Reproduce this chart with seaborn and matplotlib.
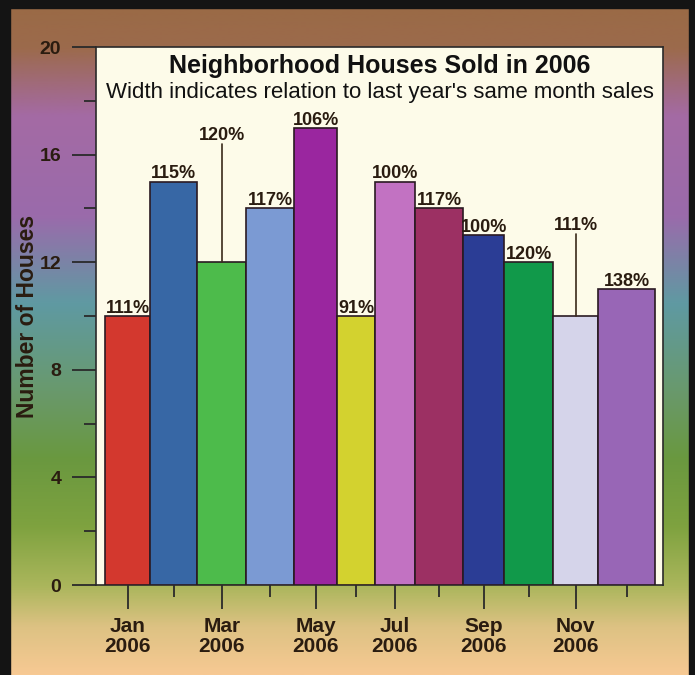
import numpy as np
import seaborn as sns
import matplotlib.pyplot as plt
from matplotlib.colors import LinearSegmentedColormap

# data
months = ["Jan", "Feb", "Mar", "Apr", "May", "Jun",
          "Jul", "Aug", "Sep", "Oct", "Nov", "Dec"]
houses_sold = [10, 15, 12, 14, 17, 10, 15, 14, 13, 12, 10, 11]
pct_last_year = [111, 115, 120, 117, 106, 91, 100, 117, 100, 120, 111, 138]

bar_colors = ["#d3382e", "#3767a5", "#4dbb4b", "#7b9ad3", "#9a269f", "#d3d22f",
              "#c272c2", "#9c3063", "#2b3d95", "#11994a", "#d5d4ea", "#9866b6"]

sns.set_style("white")
plt.rcParams["font.family"] = ["Liberation Sans", "DejaVu Sans"]
ink = "#2a1c10"

fig = plt.figure(figsize=(6.95, 6.75), dpi=100)

# gradient page background
bg = fig.add_axes([0, 0, 1, 1], zorder=-5)
grad = LinearSegmentedColormap.from_list("bg", [
    (0.00, "#9a6a45"), (0.07, "#9c6a4c"), (0.17, "#a46aa4"), (0.32, "#9a6bab"),
    (0.45, "#5f9aa2"), (0.58, "#69996c"), (0.68, "#6a983f"), (0.78, "#7ea23f"),
    (0.87, "#abb65c"), (0.93, "#ddc283"), (1.00, "#f7c993")])
bg.imshow(np.linspace(0, 1, 256)[:, None], aspect="auto", cmap=grad,
          extent=[0, 1, 0, 1], origin="upper")
bg.set_xlim(0, 1)
bg.set_ylim(0, 1)
bg.axis("off")
# dark scan border
bg.axhspan(0.988, 1, color="#141414")
bg.axvspan(0, 0.015, color="#141414")
bg.axvspan(0.992, 1, color="#141414")

ax = fig.add_axes([0.138, 0.1333, 0.816, 0.797])
ax.set_facecolor("#fdfbe9")

palette = sns.color_palette(bar_colors)
lefts = np.concatenate([[0], np.cumsum(pct_last_year)[:-1]])
centers = lefts + np.array(pct_last_year) / 2
ax.bar(lefts, houses_sold, width=pct_last_year, align="edge", color=palette,
       edgecolor="#2a1a22", linewidth=1.2, zorder=3)

# labels; Mar and Nov sit higher with a leader line
lead = {2: 4.55, 10: 3.2}
for i, (c, v, p) in enumerate(zip(centers, houses_sold, pct_last_year)):
    off = lead.get(i, 0.12)
    if i in lead:
        ax.plot([c, c], [v, v + off - 0.15], color="#3a2a1a", lw=1.2, zorder=4)
    ax.text(c, v + off, f"{p}%", ha="center", va="baseline", fontsize=13,
            fontweight="bold", color=ink, zorder=5)

ax.text(0.5, 0.965, "Neighborhood Houses Sold in 2006", transform=ax.transAxes,
        ha="center", va="center", fontsize=18, fontweight="bold", color="#111111")
ax.text(0.5, 0.916, "Width indicates relation to last year's same month sales",
        transform=ax.transAxes, ha="center", va="center", fontsize=16,
        color="#111111")

ax.set_xlim(-22, sum(pct_last_year) + 20)
ax.set_ylim(0, 20)
ax.set_yticks(range(0, 21, 4))
ax.set_yticks(range(2, 20, 4), minor=True)
ax.set_xticks(centers[0::2])
ax.set_xticklabels([f"{m}\n2006" for m in months[0::2]])
ax.set_xticks(centers[1::2], minor=True)
ax.tick_params(axis="both", which="both", bottom=True, left=True,
               direction="out", width=1.3, color="#2a2a2a")
ax.tick_params(axis="both", which="major", length=17, labelcolor=ink, pad=8)
ax.tick_params(axis="x", which="major", labelsize=15, pad=6)
ax.tick_params(axis="y", which="major", labelsize=14)
ax.tick_params(axis="both", which="minor", length=8.5)
for lab in ax.get_xticklabels() + ax.get_yticklabels():
    lab.set_fontweight("bold")
    lab.set_linespacing(1.1)
ax.set_ylabel("Number of Houses", fontsize=16.5, fontweight="bold", color=ink)
ax.yaxis.set_label_coords(-0.101, 0.5)
for s in ax.spines.values():
    s.set_color("#2a2a2a")
    s.set_linewidth(1.2)

fig.savefig("out.png", dpi=100)
